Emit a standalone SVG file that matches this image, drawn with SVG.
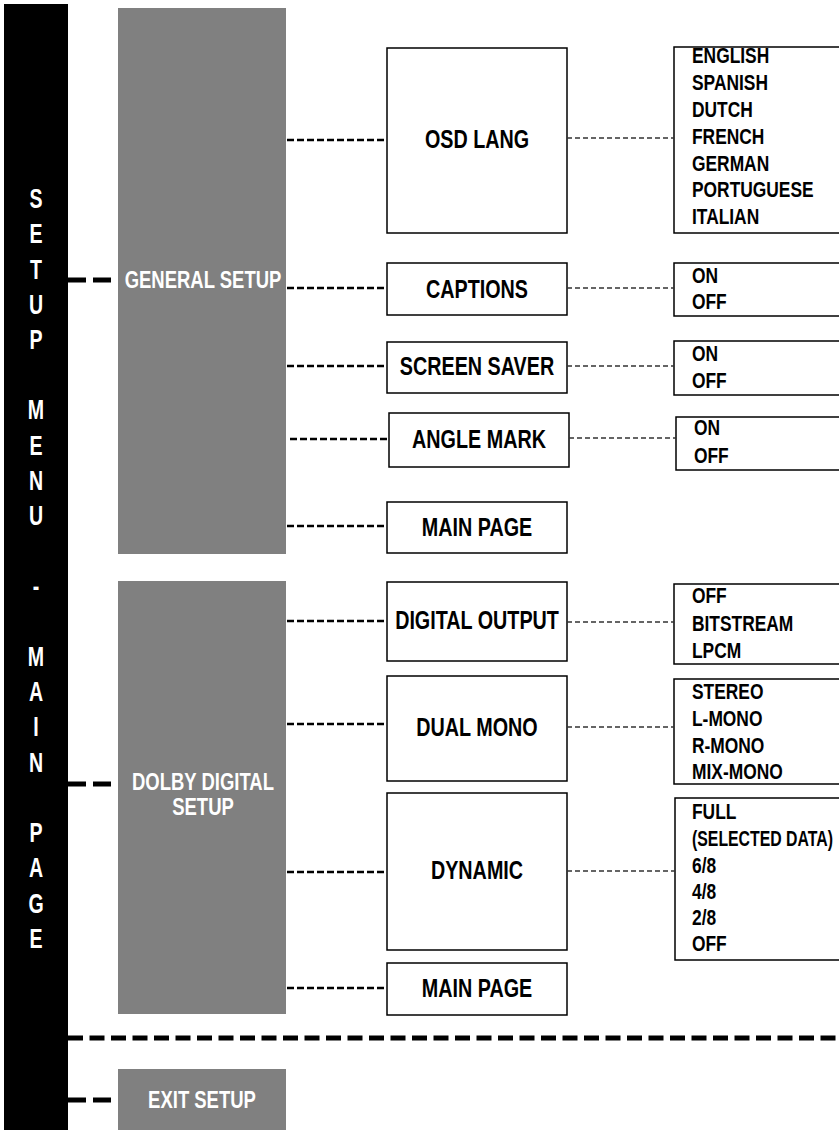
<svg xmlns="http://www.w3.org/2000/svg" width="839" height="1130" viewBox="0 0 839 1130">
<style>
text{font-family:"Liberation Sans Narrow","Liberation Sans","Arial Narrow",sans-serif;}
.bar{fill:#000;}
.grp{fill:#808080;}
.box{fill:#fff;stroke:#000;stroke-width:1.5;}
.lbl{font-size:25px;fill:#000;text-anchor:middle;font-weight:bold;}
.opt{font-size:22px;fill:#000;font-weight:bold;}
.wt{font-size:24px;fill:#fff;text-anchor:middle;font-weight:bold;}
.vt{font-size:28px;fill:#fff;text-anchor:middle;font-weight:bold;}
.thick{stroke:#000;stroke-width:5;stroke-dasharray:18 7;fill:none;}
.sep{stroke:#000;stroke-width:5;stroke-dasharray:15 6.5;fill:none;}
.mid{stroke:#000;stroke-width:2.5;stroke-dasharray:7 3;fill:none;}
.thin{stroke:#333;stroke-width:1.3;stroke-dasharray:5 3;fill:none;}
</style>
<rect width="839" height="1130" fill="#fff"/>
<g id="setup-menu">
<rect class="bar" x="4" y="4" width="64" height="1130"/>
<text class="vt" transform="translate(36,208) scale(0.7,1)">S</text>
<text class="vt" transform="translate(36,243) scale(0.7,1)">E</text>
<text class="vt" transform="translate(36,279) scale(0.7,1)">T</text>
<text class="vt" transform="translate(36,314) scale(0.7,1)">U</text>
<text class="vt" transform="translate(36,349) scale(0.7,1)">P</text>
<text class="vt" transform="translate(36,419) scale(0.7,1)">M</text>
<text class="vt" transform="translate(36,455) scale(0.7,1)">E</text>
<text class="vt" transform="translate(36,490) scale(0.7,1)">N</text>
<text class="vt" transform="translate(36,525) scale(0.7,1)">U</text>
<text class="vt" transform="translate(36,596) scale(0.7,1)">-</text>
<text class="vt" transform="translate(36,666) scale(0.7,1)">M</text>
<text class="vt" transform="translate(36,701) scale(0.7,1)">A</text>
<text class="vt" transform="translate(36,736) scale(0.7,1)">I</text>
<text class="vt" transform="translate(36,772) scale(0.7,1)">N</text>
<text class="vt" transform="translate(36,842) scale(0.7,1)">P</text>
<text class="vt" transform="translate(36,877) scale(0.7,1)">A</text>
<text class="vt" transform="translate(36,913) scale(0.7,1)">G</text>
<text class="vt" transform="translate(36,948) scale(0.7,1)">E</text>
</g>
<g id="general-setup">
<rect class="grp" x="118" y="8" width="168" height="546"/>
<text class="wt" transform="translate(203,288) scale(0.77,1)">GENERAL SETUP</text>
</g>
<g id="dolby-digital-setup">
<rect class="grp" x="118" y="581" width="168" height="433"/>
<text class="wt" transform="translate(203,790) scale(0.77,1)">DOLBY DIGITAL</text>
<text class="wt" transform="translate(203,815) scale(0.77,1)">SETUP</text>
</g>
<g id="exit-setup">
<rect class="grp" x="118" y="1069" width="168" height="70"/>
<text class="wt" transform="translate(202,1108) scale(0.77,1)">EXIT SETUP</text>
</g>
<g id="osd-lang">
<rect class="box" x="387" y="48" width="180" height="185"/>
<text class="lbl" transform="translate(477,148) scale(0.79,1)">OSD LANG</text>
</g>
<g id="osd-lang-options">
<rect class="box" x="674" y="47" width="180" height="186"/>
<text class="opt" transform="translate(692,63) scale(0.79,1)">ENGLISH</text>
<text class="opt" transform="translate(692,90) scale(0.79,1)">SPANISH</text>
<text class="opt" transform="translate(692,117) scale(0.79,1)">DUTCH</text>
<text class="opt" transform="translate(692,144) scale(0.79,1)">FRENCH</text>
<text class="opt" transform="translate(692,171) scale(0.79,1)">GERMAN</text>
<text class="opt" transform="translate(692,197) scale(0.79,1)">PORTUGUESE</text>
<text class="opt" transform="translate(692,224) scale(0.79,1)">ITALIAN</text>
</g>
<g id="captions">
<rect class="box" x="387" y="263" width="180" height="52"/>
<text class="lbl" transform="translate(477,298) scale(0.79,1)">CAPTIONS</text>
</g>
<g id="captions-options">
<rect class="box" x="674" y="263" width="180" height="53"/>
<text class="opt" transform="translate(692,283) scale(0.79,1)">ON</text>
<text class="opt" transform="translate(692,309) scale(0.79,1)">OFF</text>
</g>
<g id="screen-saver">
<rect class="box" x="387" y="342" width="180" height="51"/>
<text class="lbl" transform="translate(477,375) scale(0.79,1)">SCREEN SAVER</text>
</g>
<g id="screen-saver-options">
<rect class="box" x="674" y="341" width="180" height="54"/>
<text class="opt" transform="translate(692,361) scale(0.79,1)">ON</text>
<text class="opt" transform="translate(692,388) scale(0.79,1)">OFF</text>
</g>
<g id="angle-mark">
<rect class="box" x="389" y="413" width="180" height="54"/>
<text class="lbl" transform="translate(479,448) scale(0.79,1)">ANGLE MARK</text>
</g>
<g id="angle-mark-options">
<rect class="box" x="676" y="417" width="180" height="53"/>
<text class="opt" transform="translate(694,435) scale(0.79,1)">ON</text>
<text class="opt" transform="translate(694,463) scale(0.79,1)">OFF</text>
</g>
<g id="main-page-1">
<rect class="box" x="387" y="502" width="180" height="51"/>
<text class="lbl" transform="translate(477,536) scale(0.79,1)">MAIN PAGE</text>
</g>
<g id="digital-output">
<rect class="box" x="387" y="582" width="180" height="79"/>
<text class="lbl" transform="translate(477,629) scale(0.79,1)">DIGITAL OUTPUT</text>
</g>
<g id="digital-output-options">
<rect class="box" x="674" y="584" width="180" height="80"/>
<text class="opt" transform="translate(692,603) scale(0.79,1)">OFF</text>
<text class="opt" transform="translate(692,631) scale(0.79,1)">BITSTREAM</text>
<text class="opt" transform="translate(692,658) scale(0.79,1)">LPCM</text>
</g>
<g id="dual-mono">
<rect class="box" x="387" y="676" width="180" height="105"/>
<text class="lbl" transform="translate(477,736) scale(0.79,1)">DUAL MONO</text>
</g>
<g id="dual-mono-options">
<rect class="box" x="674" y="679" width="180" height="105"/>
<text class="opt" transform="translate(692,699) scale(0.79,1)">STEREO</text>
<text class="opt" transform="translate(692,726) scale(0.79,1)">L-MONO</text>
<text class="opt" transform="translate(692,753) scale(0.79,1)">R-MONO</text>
<text class="opt" transform="translate(692,779) scale(0.79,1)">MIX-MONO</text>
</g>
<g id="dynamic">
<rect class="box" x="387" y="793" width="180" height="157"/>
<text class="lbl" transform="translate(477,879) scale(0.79,1)">DYNAMIC</text>
</g>
<g id="dynamic-options">
<rect class="box" x="675" y="798" width="180" height="162"/>
<text class="opt" transform="translate(692,819) scale(0.79,1)">FULL</text>
<text class="opt" transform="translate(692,846) scale(0.72,1)">(SELECTED DATA)</text>
<text class="opt" transform="translate(692,873) scale(0.79,1)">6/8</text>
<text class="opt" transform="translate(692,899) scale(0.79,1)">4/8</text>
<text class="opt" transform="translate(692,925) scale(0.79,1)">2/8</text>
<text class="opt" transform="translate(692,951) scale(0.79,1)">OFF</text>
</g>
<g id="main-page-2">
<rect class="box" x="387" y="963" width="180" height="52"/>
<text class="lbl" transform="translate(477,997) scale(0.79,1)">MAIN PAGE</text>
</g>
<g id="connectors">
<line class="thick" x1="68" y1="280" x2="118" y2="280"/>
<line class="thick" x1="68" y1="784" x2="118" y2="784"/>
<line class="thick" x1="68" y1="1100" x2="118" y2="1100"/>
<line class="sep" x1="68" y1="1038" x2="839" y2="1038"/>
<line class="mid" x1="287" y1="140" x2="387" y2="140"/>
<line class="mid" x1="287" y1="288" x2="387" y2="288"/>
<line class="mid" x1="287" y1="366" x2="387" y2="366"/>
<line class="mid" x1="290" y1="439" x2="389" y2="439"/>
<line class="mid" x1="287" y1="526" x2="387" y2="526"/>
<line class="mid" x1="287" y1="621" x2="387" y2="621"/>
<line class="mid" x1="287" y1="724" x2="387" y2="724"/>
<line class="mid" x1="287" y1="872" x2="387" y2="872"/>
<line class="mid" x1="287" y1="988" x2="387" y2="988"/>
<line class="thin" x1="567" y1="138" x2="674" y2="138"/>
<line class="thin" x1="567" y1="288" x2="674" y2="288"/>
<line class="thin" x1="567" y1="366" x2="674" y2="366"/>
<line class="thin" x1="569" y1="438" x2="676" y2="438"/>
<line class="thin" x1="567" y1="622" x2="674" y2="622"/>
<line class="thin" x1="567" y1="727" x2="674" y2="727"/>
<line class="thin" x1="567" y1="871" x2="675" y2="871"/>
</g>
</svg>
